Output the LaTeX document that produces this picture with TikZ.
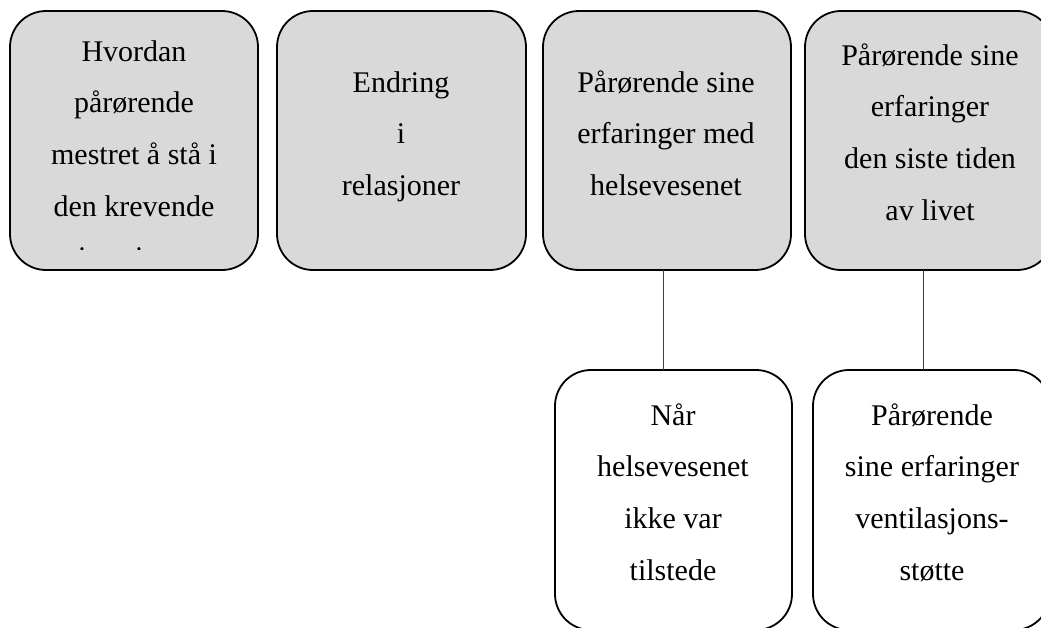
\documentclass[tikz,border=0pt]{standalone}
\usepackage{fontspec}
\setmainfont{Liberation Serif}
\definecolor{boxgray}{HTML}{D9D9D9}
\newcommand{\firstln}{\rule{0pt}{25pt}}
\begin{document}
\begin{tikzpicture}[x=1pt,y=-1pt,
  box/.style={draw=black, line width=1.8pt, rounded corners=36pt, inner sep=0pt, outer sep=0pt},
  topbox/.style={box, fill=boxgray, minimum height=259pt},
  subbox/.style={box, fill=white, minimum height=260pt, minimum width=237pt},
  lbl/.style={font=\fontsize{30}{51.6}\selectfont, align=center, inner sep=0pt, anchor=north},
  link/.style={line width=1pt, draw=black!75}]
\useasboundingbox (0,0) rectangle (1041,627);
\clip (0,0) rectangle (1041,627);
\fill[white] (0,0) rectangle (1041,627);

\coordinate (c1) at (663,0);
\coordinate (c2) at (923,0);

% top row
\node[topbox, minimum width=248pt] (b1) at (134,140.5) {};
\node[topbox, minimum width=249pt] (b2) at (401.5,140.5) {};
\node[topbox, minimum width=248pt] (b3) at (667,140.5) {};
\node[topbox, minimum width=248pt] (b4) at (929,140.5) {};
% second row
\node[subbox] (b5) at (673.5,500) {};
\node[subbox] (b6) at (931.5,500) {};

% connectors
\draw[link] (b3.south -| c1) -- (b5.north -| c1);
\draw[link] (b4.south -| c2) -- (b6.north -| c2);

% texts
\begin{scope}
  \clip (10,11) rectangle (258,249);
  \node[lbl] (t1) at (134,36) {\firstln Hvordan\\pårørende\\mestret å stå i\\den krevende\\situasjonen};
\end{scope}
\node[lbl] (t2) at (401,67) {\firstln Endring\\i\\relasjoner};
\node[lbl] (t3) at (666,67) {\firstln Pårørende sine\\erfaringer med\\helsevesenet};
\node[lbl] (t4) at (930,40) {\firstln Pårørende sine\\erfaringer\\den siste tiden\\av livet};
\node[lbl] (t5) at (673,400) {\firstln Når\\helsevesenet\\ikke var\\tilstede};
\node[lbl] (t6) at (932,400) {\firstln Pårørende\\sine erfaringer\\ventilasjons-\\støtte};
\end{tikzpicture}
\end{document}
